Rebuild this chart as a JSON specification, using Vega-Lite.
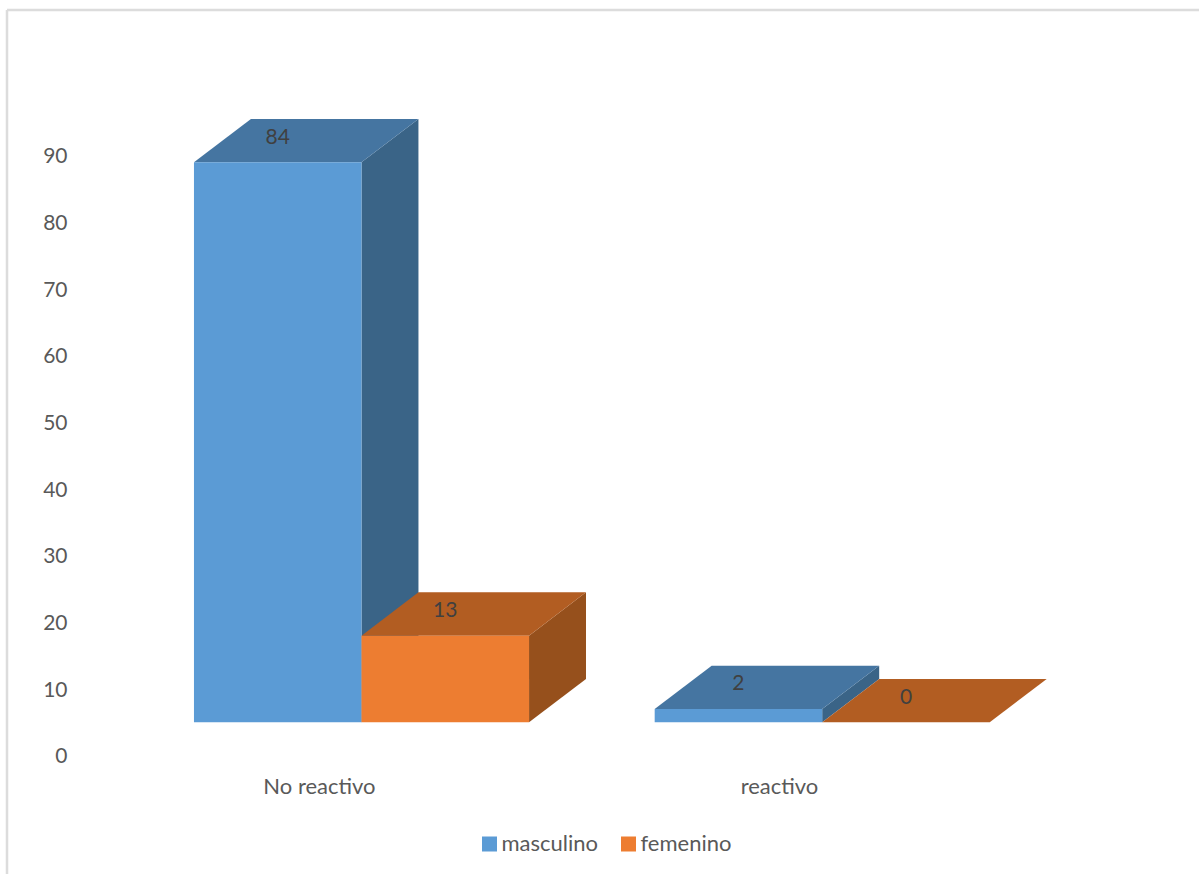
{
  "$schema": "https://vega.github.io/schema/vega-lite/v6.json",
  "autosize": "none",
  "padding": {"left": 7, "top": 10, "right": 0, "bottom": 0},
  "width": 1192,
  "height": 864,
  "background": "white",
  "config": {"view": {"stroke": null}, "text": {"font": "Lato"}},
  "datasets": {
    "casos": [
      {"categoria": "No reactivo", "sexo": "masculino", "valor": 84},
      {"categoria": "No reactivo", "sexo": "femenino", "valor": 13},
      {"categoria": "reactivo", "sexo": "masculino", "valor": 2},
      {"categoria": "reactivo", "sexo": "femenino", "valor": 0}
    ]
  },
  "data": {"name": "casos"},
  "transform": [
    {"calculate": "(datum.categoria === 'No reactivo' ? 1.116 : 3.866) + (datum.sexo === 'femenino' ? 1 : 0)", "as": "inicio"},
    {"calculate": "datum.inicio + 1", "as": "fin"},
    {"calculate": "5", "as": "base"},
    {"calculate": "5 + datum.valor", "as": "tope"},
    {"calculate": "datum.inicio + 0.5", "as": "centro"},
    {"calculate": "datum.tope + 3.7", "as": "etiquetaY"}
  ],
  "encoding": {
    "x": {
      "type": "quantitative",
      "scale": {"domain": [0, 7.115], "nice": false, "zero": false},
      "axis": {
        "orient": "bottom",
        "offset": -98,
        "title": null,
        "grid": false,
        "domain": false,
        "ticks": false,
        "values": [1.862, 4.608],
        "labelExpr": "datum.value < 3 ? 'No reactivo' : 'reactivo'",
        "labelFont": "Lato",
        "labelFontSize": 22,
        "labelColor": "#595959",
        "labelPadding": 0,
        "labelBaseline": "top",
        "labelOverlap": false
      }
    },
    "y": {
      "type": "quantitative",
      "stack": null,
      "scale": {"domain": [-17.75, 111.85], "nice": false, "zero": false},
      "axis": {
        "orient": "left",
        "offset": -60,
        "title": null,
        "grid": false,
        "domain": false,
        "ticks": false,
        "values": [0, 10, 20, 30, 40, 50, 60, 70, 80, 90],
        "labelFont": "Lato",
        "labelFontSize": 21,
        "labelColor": "#595959",
        "labelPadding": 0,
        "labelOffset": 1
      }
    }
  },
  "layer": [
    {
      "transform": [
        {"fold": ["frente", "fondo"], "as": ["vertice", "sinUso"]},
        {"calculate": "datum.fin + (datum.vertice === 'fondo' ? 0.34 : 0)", "as": "xLado"},
        {"calculate": "datum.base + (datum.vertice === 'fondo' ? 6.5 : 0)", "as": "yLado"},
        {"calculate": "datum.tope + (datum.vertice === 'fondo' ? 6.5 : 0)", "as": "yLado2"}
      ],
      "mark": {"type": "area", "orient": "vertical"},
      "encoding": {
        "x": {"field": "xLado", "type": "quantitative", "stack": null},
        "y": {"field": "yLado", "type": "quantitative", "stack": null},
        "y2": {"field": "yLado2"},
        "detail": {"field": "categoria"},
        "color": {"field": "sexo", "type": "nominal", "legend": null, "scale": {"domain": ["masculino", "femenino"], "range": ["#3a6487", "#96501c"]}}
      }
    },
    {
      "transform": [
        {"fold": ["frente", "fondo"], "as": ["vertice", "sinUso"]},
        {"calculate": "datum.inicio + (datum.vertice === 'fondo' ? 0.34 : 0)", "as": "xTapa"},
        {"calculate": "datum.fin + (datum.vertice === 'fondo' ? 0.34 : 0)", "as": "xTapa2"},
        {"calculate": "datum.tope + (datum.vertice === 'fondo' ? 6.5 : 0)", "as": "yTapa"}
      ],
      "mark": {"type": "area", "orient": "horizontal"},
      "encoding": {
        "y": {"field": "yTapa", "type": "quantitative", "stack": null},
        "x": {"field": "xTapa", "type": "quantitative", "stack": null},
        "x2": {"field": "xTapa2"},
        "detail": {"field": "categoria"},
        "color": {"field": "sexo", "type": "nominal", "legend": null, "scale": {"domain": ["masculino", "femenino"], "range": ["#4575a1", "#b25d22"]}}
      }
    },
    {
      "mark": {"type": "rect"},
      "encoding": {
        "x": {"field": "inicio", "type": "quantitative"},
        "x2": {"field": "fin"},
        "y": {"field": "base", "type": "quantitative"},
        "y2": {"field": "tope"},
        "color": {
          "field": "sexo",
          "type": "nominal",
          "scale": {"domain": ["masculino", "femenino"], "range": ["#5b9bd5", "#ed7d31"]},
          "legend": {
            "title": null,
            "orient": "none",
            "legendX": 471.5,
            "legendY": 823,
            "direction": "horizontal",
            "symbolType": "square",
            "symbolSize": 225,
            "symbolStrokeWidth": 0,
            "labelFont": "Lato",
            "labelFontSize": 22,
            "labelColor": "#595959",
            "labelOffset": 1,
            "columnPadding": 19
          }
        }
      }
    },
    {
      "mark": {"type": "text", "fontSize": 21, "font": "Lato", "color": "#404040", "baseline": "middle", "align": "center"},
      "encoding": {
        "x": {"field": "centro", "type": "quantitative"},
        "y": {"field": "etiquetaY", "type": "quantitative"},
        "text": {"field": "valor", "type": "quantitative"}
      }
    },
    {
      "mark": {"type": "rule", "color": "#dcdcdc", "strokeWidth": 2.5},
      "data": {"values": [{}]},
      "transform": [],
      "encoding": {"x": {"datum": 0, "type": "quantitative"}, "y": null}
    },
    {
      "mark": {"type": "rule", "color": "#dcdcdc", "strokeWidth": 2.5},
      "data": {"values": [{}]},
      "transform": [],
      "encoding": {"y": {"datum": 111.85, "type": "quantitative"}, "x": null}
    }
  ],
  "resolve": {"scale": {"color": "independent"}}
}
